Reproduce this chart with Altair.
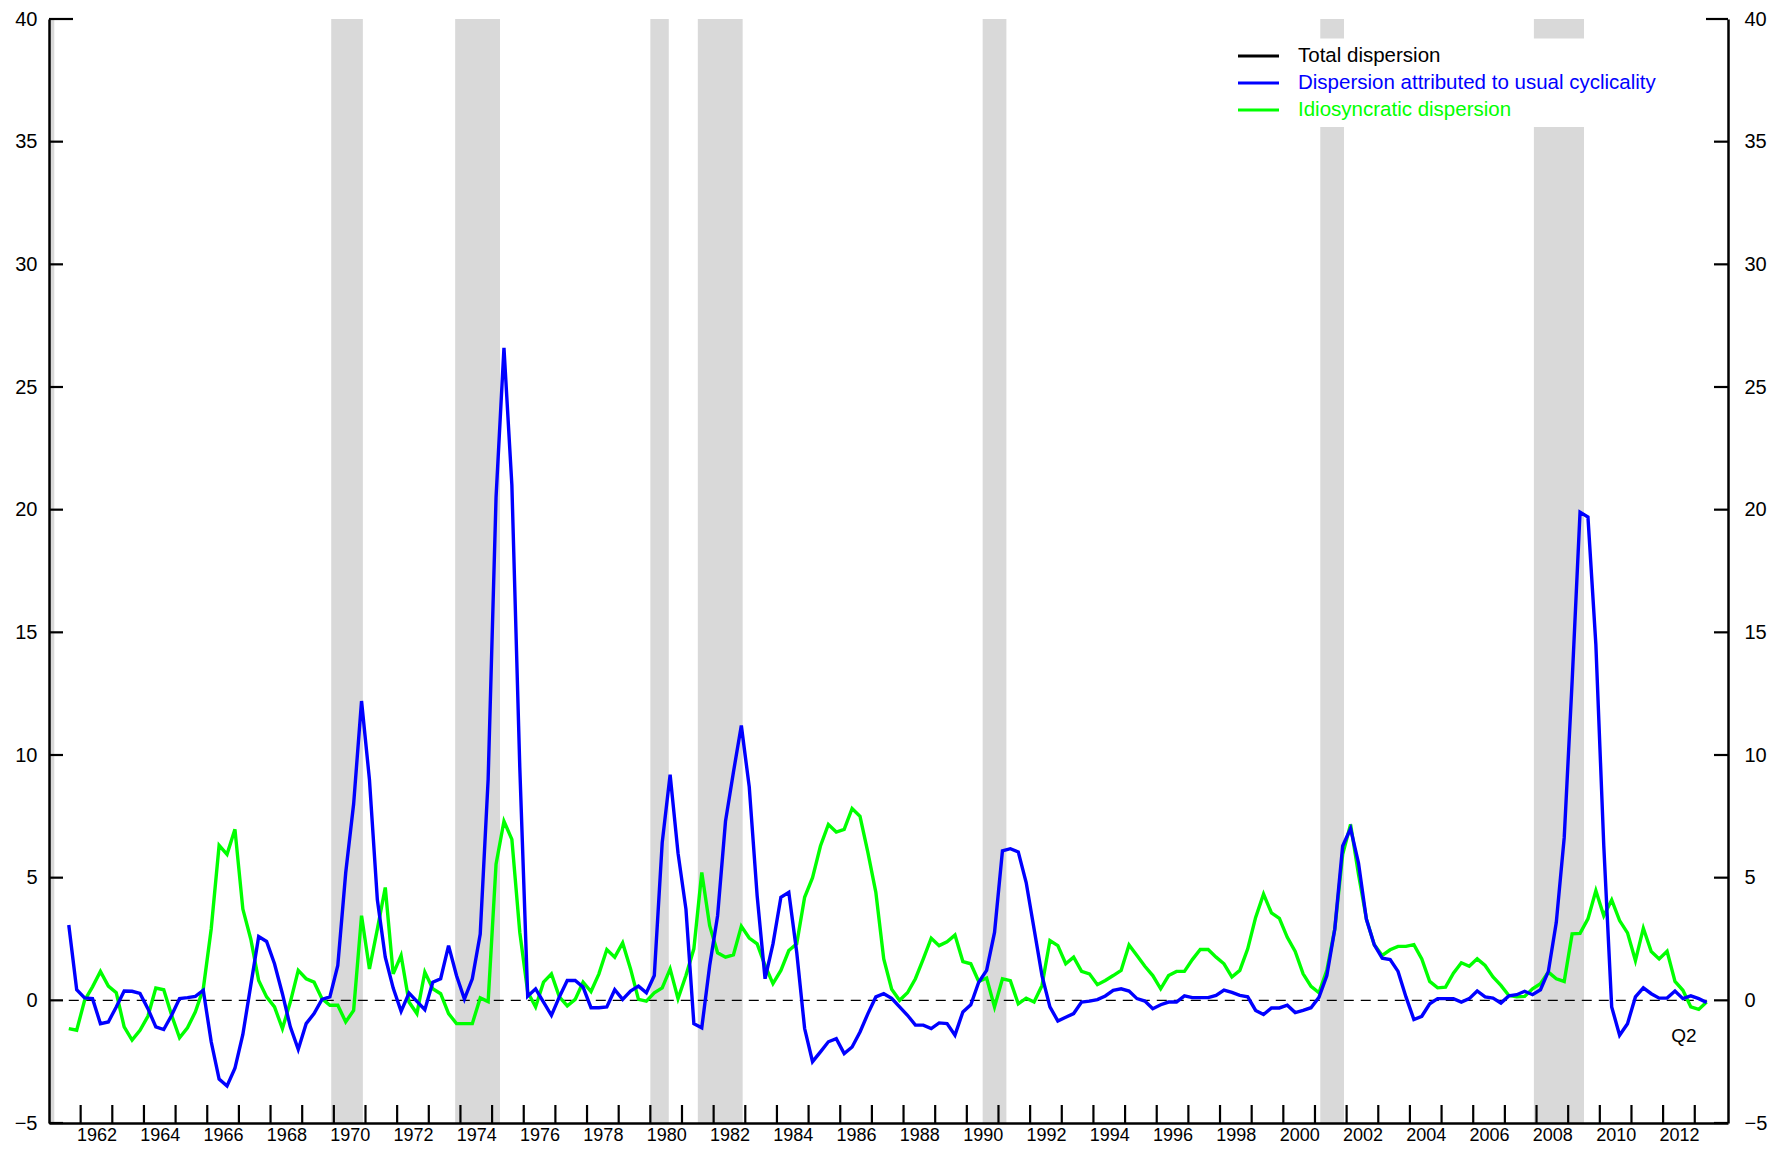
import altair as alt
import pandas as pd

FONT = "Liberation Sans"
W, H = 1679, 1104

# ---------------- data (quarterly, 1961Q3 .. 2013Q2) ----------------
start_year, start_quarter = 1961, 3

cyclical = [
    3.07, 0.43,
    0.10, 0.07, -0.95, -0.88,
    -0.27, 0.38, 0.37, 0.28,
    -0.34, -1.08, -1.19, -0.61,
    0.07, 0.11, 0.16, 0.41,
    -1.69, -3.21, -3.49, -2.77,
    -1.39, 0.61, 2.60, 2.40,
    1.49, 0.27, -1.08, -2.00,
    -0.95, -0.54, 0.04, 0.14,
    1.42, 5.20, 8.00, 12.20,
    9.00, 4.10, 1.76, 0.50,
    -0.45, 0.30, -0.04, -0.38,
    0.74, 0.88, 2.23, 1.01,
    0.05, 0.88, 2.70, 9.00,
    20.50, 26.60, 21.00, 9.50,
    0.17, 0.47, -0.07, -0.61,
    0.14, 0.81, 0.81, 0.54,
    -0.30, -0.30, -0.27, 0.43,
    0.04, 0.38, 0.58, 0.31,
    1.01, 6.43, 9.20, 6.00,
    3.72, -0.95, -1.12, 1.42,
    3.45, 7.30, 9.30, 11.20,
    8.70, 4.26, 0.88, 2.30,
    4.20, 4.40, 1.96, -1.15,
    -2.50, -2.10, -1.69, -1.56,
    -2.17, -1.90, -1.29, -0.54,
    0.14, 0.27, 0.08, -0.27,
    -0.61, -1.01, -1.01, -1.15,
    -0.92, -0.95, -1.42, -0.47,
    -0.18, 0.74, 1.22, 2.77,
    6.09, 6.18, 6.05, 4.80,
    2.91, 1.01, -0.27, -0.84,
    -0.69, -0.54, -0.07, -0.03,
    0.03, 0.18, 0.41, 0.47,
    0.38, 0.07, -0.03, -0.34,
    -0.18, -0.07, -0.07, 0.18,
    0.11, 0.11, 0.11, 0.20,
    0.42, 0.32, 0.20, 0.14,
    -0.41, -0.58, -0.31, -0.31,
    -0.20, -0.50, -0.41, -0.30,
    0.12, 1.01, 2.90, 6.29,
    7.00, 5.60, 3.30, 2.26,
    1.72, 1.66, 1.18, 0.14,
    -0.78, -0.65, -0.14, 0.07,
    0.07, 0.07, -0.07, 0.07,
    0.38, 0.14, 0.09, -0.11,
    0.18, 0.23, 0.37, 0.23,
    0.43, 1.18, 3.18, 6.63,
    13.00, 19.90, 19.70, 14.50,
    6.30, -0.27, -1.42, -0.95,
    0.14, 0.51, 0.27, 0.09,
    0.09, 0.38, 0.07, 0.18,
    0.07, -0.09,
]

idiosyncratic = [
    -1.15, -1.22,
    0.00, 0.55, 1.18, 0.58,
    0.31, -1.08, -1.62, -1.22,
    -0.65, 0.50, 0.43, -0.61,
    -1.53, -1.12, -0.47, 0.47,
    2.91, 6.32, 5.95, 6.97,
    3.72, 2.50, 0.81, 0.14,
    -0.27, -1.15, -0.07, 1.22,
    0.88, 0.74, 0.07, -0.20,
    -0.20, -0.88, -0.41, 3.45,
    1.28, 2.90, 4.60, 1.08,
    1.83, -0.07, -0.54, 1.15,
    0.47, 0.27, -0.54, -0.95,
    -0.95, -0.95, 0.10, -0.05,
    5.55, 7.30, 6.56, 2.77,
    0.34, -0.27, 0.74, 1.08,
    0.14, -0.23, 0.04, 0.74,
    0.36, 1.08, 2.07, 1.76,
    2.34, 1.28, 0.04, -0.03,
    0.31, 0.51, 1.28, 0.07,
    1.01, 2.10, 5.21, 3.04,
    1.94, 1.76, 1.85, 3.02,
    2.54, 2.30, 1.42, 0.68,
    1.22, 2.03, 2.30, 4.20,
    5.00, 6.29, 7.17, 6.86,
    6.97, 7.82, 7.50, 6.02,
    4.40, 1.69, 0.45, 0.00,
    0.31, 0.88, 1.69, 2.53,
    2.23, 2.39, 2.66, 1.58,
    1.49, 0.77, 0.91, -0.27,
    0.88, 0.80, -0.14, 0.09,
    -0.07, 0.61, 2.44, 2.23,
    1.49, 1.76, 1.18, 1.08,
    0.64, 0.81, 1.01, 1.22,
    2.26, 1.83, 1.39, 1.01,
    0.47, 1.01, 1.18, 1.18,
    1.66, 2.07, 2.07, 1.76,
    1.49, 0.95, 1.22, 2.10,
    3.38, 4.33, 3.56, 3.34,
    2.57, 1.99, 1.08, 0.57,
    0.31, 1.22, 2.90, 5.95,
    7.17, 5.14, 3.32, 2.26,
    1.83, 2.06, 2.20, 2.20,
    2.27, 1.69, 0.77, 0.51,
    0.54, 1.11, 1.53, 1.39,
    1.69, 1.42, 0.95, 0.61,
    0.20, 0.14, 0.16, 0.47,
    0.68, 1.15, 0.88, 0.77,
    2.71, 2.73, 3.32, 4.47,
    3.45, 4.09, 3.25, 2.75,
    1.62, 2.94, 1.99, 1.69,
    2.00, 0.77, 0.41, -0.27,
    -0.37, -0.07,
]

# NBER recessions (fractional years)
recession_start = [1960.25, 1969.917, 1973.833, 1980.0, 1981.5, 1990.5, 2001.167, 2007.917]
recession_end = [1961.167, 1970.917, 1975.25, 1980.583, 1982.917, 1991.25, 2001.917, 2009.5]

y_ticks = [-5, 0, 5, 10, 15, 20, 25, 30, 35, 40]
x_tick_years = list(range(1962, 2014))
x_label_years = list(range(1962, 2013, 2))

legend_labels = ["Total dispersion", "Dispersion attributed to usual cyclicality",
                 "Idiosyncratic dispersion"]
legend_colors = ["#000000", "#0000ff", "#00ff00"]

annotation_text = ["Q2"]
annotation_x = [2012.66]
annotation_y = [-1.44]

# ---------------- build ----------------
quarter_pos = [start_year + (start_quarter - 1) / 4 + 0.125 + 0.25 * i
               for i in range(len(cyclical))]
df = pd.DataFrame({"t": quarter_pos, "cyc": cyclical, "idio": idiosyncratic})
rec_df = pd.DataFrame({"start": recession_start, "end": recession_end})

x_scale = alt.Scale(domain=[1961, 2014.05], nice=False, zero=False)
y_scale = alt.Scale(domain=[-5, 40], nice=False, zero=False)

axis_common = dict(ticks=False, tickSize=0, domain=True, domainColor="black",
                   domainWidth=2.5, labelFont=FONT, labelColor="black", grid=False,
                   title=None, labelOverlap=False, zindex=1)

x_axis = alt.Axis(orient="bottom", values=[v + 0.5 for v in x_label_years],
                  labelExpr="'' + floor(datum.value)", labelFontSize=18,
                  labelPadding=3, labelFlush=False, labelBaseline="top", **axis_common)


def X(field):
    return alt.X(field, scale=x_scale, axis=x_axis)


bands = alt.Chart(rec_df).mark_rect(color="#d9d9d9", clip=True).encode(
    x=X("start:Q"), x2="end:Q",
    y=alt.value(0), y2=alt.value(H),
)

legend_box = alt.Chart(pd.DataFrame({"k": [0]})).mark_rect(color="white").encode(
    x=alt.value(1176), x2=alt.value(1660), y=alt.value(19.5), y2=alt.value(108)
)

zero_df = pd.DataFrame({"t0": [quarter_pos[0]], "t1": [quarter_pos[-1]], "v": [0]})
zero_line = alt.Chart(zero_df).mark_rule(color="black", strokeWidth=1.3,
                                         strokeDash=[10, 7]).encode(
    x=X("t0:Q"), x2="t1:Q",
    y=alt.Y("v:Q", scale=y_scale, axis=None),
)

ytick_df = pd.DataFrame({"v": y_ticks})
tick_style = dict(color="black", strokeWidth=2.2)
left_ticks = alt.Chart(ytick_df).transform_filter("datum.v < 40").mark_rule(**tick_style).encode(
    y=alt.Y("v:Q", scale=y_scale, axis=None), x=alt.value(0), x2=alt.value(14))
left_top = alt.Chart(ytick_df).transform_filter("datum.v == 40").mark_rule(**tick_style).encode(
    y=alt.Y("v:Q", scale=y_scale, axis=None), x=alt.value(0), x2=alt.value(24))
right_ticks = alt.Chart(ytick_df).transform_filter("datum.v < 40").mark_rule(**tick_style).encode(
    y=alt.Y("v:Q", scale=y_scale, axis=None), x=alt.value(W - 14), x2=alt.value(W))
right_top = alt.Chart(ytick_df).transform_filter("datum.v == 40").mark_rule(**tick_style).encode(
    y=alt.Y("v:Q", scale=y_scale, axis=None), x=alt.value(W - 22), x2=alt.value(W))

x_ticks = alt.Chart(pd.DataFrame({"yr": x_tick_years})).mark_rule(**tick_style).encode(
    x=X("yr:Q"), y=alt.value(H - 18), y2=alt.value(H))

green = alt.Chart(df).mark_line(color="#00ff00", strokeWidth=3.4).encode(
    x=X("t:Q"),
    y=alt.Y("idio:Q", scale=y_scale,
            axis=alt.Axis(orient="left", values=y_ticks, labelFontSize=20,
                          labelPadding=12, **axis_common)),
)

blue = alt.Chart(df).mark_line(color="#0000ff", strokeWidth=3.4).encode(
    x=X("t:Q"),
    y=alt.Y("cyc:Q", scale=y_scale,
            axis=alt.Axis(orient="right", values=y_ticks, labelFontSize=20,
                          labelPadding=16, **axis_common)),
)

ann_df = pd.DataFrame({"t": annotation_x, "v": annotation_y, "txt": annotation_text})
q2 = alt.Chart(ann_df).mark_text(font=FONT, fontSize=19, color="black",
                                 align="center", baseline="middle").encode(
    x=X("t:Q"),
    y=alt.Y("v:Q", scale=y_scale, axis=None),
    text="txt:N",
)

legend_layers = []
row_y = [37, 64, 91]
for lab, col, ry in zip(legend_labels, legend_colors, row_y):
    ldf = pd.DataFrame({"l": [lab]})
    legend_layers.append(alt.Chart(ldf).mark_rule(color=col, strokeWidth=3).encode(
        x=alt.value(1189), x2=alt.value(1230), y=alt.value(ry)))
    legend_layers.append(alt.Chart(ldf).mark_text(
        font=FONT, fontSize=20.5, color=col, align="left", baseline="middle").encode(
        x=alt.value(1249), y=alt.value(ry), text="l:N"))

chart = alt.layer(
    bands, legend_box, zero_line, left_ticks, left_top, right_ticks, right_top,
    x_ticks, green, blue, q2, *legend_layers
).resolve_scale(y="independent").resolve_axis(x="shared").properties(
    width=W, height=H,
    padding={"left": 41, "top": 11, "right": 40, "bottom": 21},
    autosize=alt.AutoSizeParams(type="none"),
).configure_view(stroke=None)

chart.save("out.html", embed_options={"renderer": "svg", "actions": False})
